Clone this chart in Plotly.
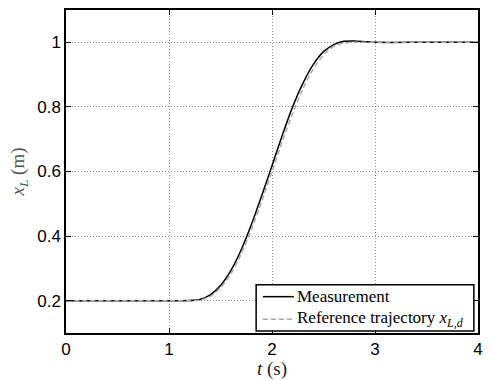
import plotly.graph_objects as go

t_meas = [0.0, 1.0, 1.1, 1.2, 1.3, 1.4, 1.5, 1.6, 1.7, 1.8, 1.9, 2.0, 2.1, 2.2, 2.3,
          2.4, 2.5, 2.6, 2.7, 2.8, 2.9, 3.0, 3.5, 4.0]
x_meas = [0.2, 0.2, 0.2, 0.2005, 0.204, 0.218, 0.247, 0.293, 0.357, 0.436, 0.525,
          0.618, 0.712, 0.800, 0.873, 0.931, 0.971, 0.993, 1.003, 1.004, 1.002,
          1.0, 1.0, 1.0]

# Reference trajectory
t_ref = [0.0, 1.0, 1.2, 1.3, 1.4, 1.5, 1.6, 1.7, 1.8, 1.9, 2.0, 2.1, 2.2, 2.3, 2.4,
         2.5, 2.6, 2.7, 2.8, 3.0, 3.5, 4.0]
x_ref = [0.2, 0.2, 0.2, 0.2018, 0.2128, 0.239, 0.2828, 0.344, 0.4202, 0.5072, 0.6,
         0.6928, 0.7798, 0.856, 0.9172, 0.961, 0.9872, 0.9982, 1.0, 1.0, 1.0, 1.0]

series_names = ["Measurement", "Reference trajectory <i>x</i><sub><i>L,d</i></sub>"]

x_ticks = [0, 1, 2, 3, 4]
y_ticks = [0.2, 0.4, 0.6, 0.8, 1.0]
y_tick_text = ["0.2", "0.4", "0.6", "0.8", "1"]

SERIF = "Liberation Serif, Times New Roman, serif"
SANS = "Liberation Sans, Arial, sans-serif"

meas_line = dict(color="black", width=1.5)
ref_line = dict(color="#aaaaaa", width=1.5, dash="5px,3px")

fig = go.Figure()
fig.add_trace(go.Scatter(x=t_meas, y=x_meas, mode="lines", name=series_names[0],
                         line=dict(**meas_line, shape="spline", smoothing=0.6),
                         showlegend=False))
fig.add_trace(go.Scatter(x=t_ref, y=x_ref, mode="lines", name=series_names[1],
                         line=dict(**ref_line, shape="spline", smoothing=0.6),
                         showlegend=False))

axis_common = dict(
    showline=True, linecolor="black", linewidth=1.5, mirror="allticks",
    ticks="inside", ticklen=5, tickcolor="black", tickwidth=1,
    showgrid=True, gridcolor="#8c8c8c", griddash="1px,2px", gridwidth=1,
    zeroline=False,
    tickfont=dict(family=SANS, size=17, color="black"),
)

fig.update_xaxes(range=[0, 4], tickvals=x_ticks, ticktext=[str(v) for v in x_ticks],
                 title=dict(text="<i>t</i> (s)", standoff=0,
                            font=dict(family=SERIF, size=19, color="#222")),
                 **axis_common)
fig.update_yaxes(range=[0.1, 1.1], tickvals=y_ticks, ticktext=y_tick_text,
                 title=dict(text="<i>x</i><sub><i>L</i></sub> (m)", standoff=8,
                            font=dict(family=SERIF, size=19, color="#555")),
                 **axis_common)

# Legend box (MATLAB style, compact), in paper coordinates
lx0, lx1, ly0, ly1 = 0.4615, 0.990, 0.006, 0.149
row_y = [0.1125, 0.0426]
sample_x0, sample_x1 = 0.478, 0.553
fig.add_shape(type="rect", xref="paper", yref="paper", x0=lx0, x1=lx1, y0=ly0, y1=ly1,
              line=dict(color="black", width=1.5), fillcolor="white", layer="above")
for name, ln, ry in zip(series_names, [meas_line, ref_line], row_y):
    fig.add_shape(type="line", xref="paper", yref="paper", x0=sample_x0, x1=sample_x1,
                  y0=ry, y1=ry, line=ln, layer="above")
    fig.add_annotation(xref="paper", yref="paper", x=sample_x1 + 0.003, y=ry,
                       xanchor="left", yanchor="middle", text=name, showarrow=False,
                       font=dict(family=SERIF, size=17, color="black"))

fig.update_layout(
    width=491, height=380,
    margin=dict(l=66, r=9, t=8, b=43),
    paper_bgcolor="white", plot_bgcolor="white",
    showlegend=False,
)

fig.write_html("out.html")
